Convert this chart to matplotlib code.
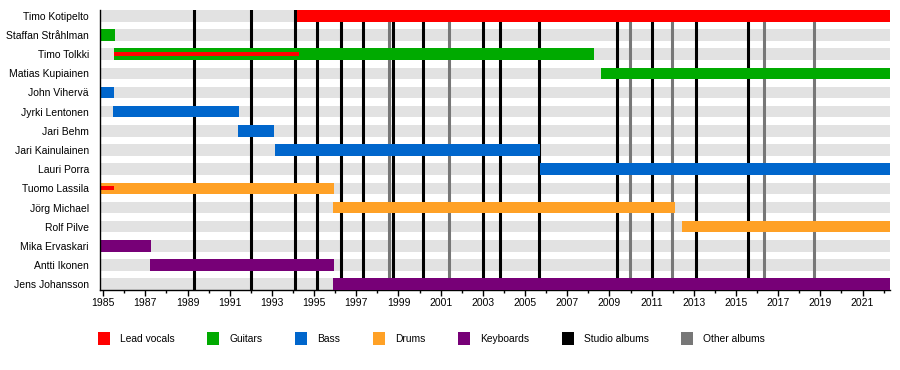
import matplotlib.pyplot as plt
from matplotlib.patches import Patch
from matplotlib.ticker import MultipleLocator

plt.rcParams["font.family"] = ["Liberation Sans", "DejaVu Sans"]

# 时间范围
START = 1984.85
END = 2022.3

members = ["Timo Kotipelto", "Staffan Stråhlman", "Timo Tolkki", "Matias Kupiainen",
           "John Vihervä", "Jyrki Lentonen", "Jari Behm", "Jari Kainulainen",
           "Lauri Porra", "Tuomo Lassila", "Jörg Michael", "Rolf Pilve",
           "Mika Ervaskari", "Antti Ikonen", "Jens Johansson"]
roles = ["vocals", "guitars", "guitars", "guitars",
         "bass", "bass", "bass", "bass",
         "bass", "drums", "drums", "drums",
         "keyboards", "keyboards", "keyboards"]
starts = [1994.21, START, 1985.5, 2008.59,
          START, 1985.46, 1991.38, 1993.14,
          2005.71, START, 1995.89, 2012.43,
          START, 1987.21, 1995.89]
ends = [END, 1985.55, 2008.26, END,
        1985.5, 1991.43, 1993.09, 2005.73,
        END, 1995.93, 2012.09, END,
        1987.26, 1995.93, END]

# 兼任主唱（细红线）
extra_members = ["Timo Tolkki", "Tuomo Lassila"]
extra_starts = [1985.5, START]
extra_ends = [1994.27, 1985.5]

studio_albums = [1989.31, 1992.01, 1994.10, 1995.14, 1996.28, 1997.32, 1998.74,
                 2000.14, 2003.0, 2003.8, 2005.66, 2009.36, 2011.02, 2013.10, 2015.57]
other_albums = [1998.53, 2001.4, 2009.98, 2011.97, 2016.33, 2018.70]

colors = {"vocals": "#ff0000", "guitars": "#00aa00", "bass": "#0066cc",
          "drums": "#ffa126", "keyboards": "#770077"}
legend_labels = ["Lead vocals", "Guitars", "Bass", "Drums", "Keyboards",
                 "Studio albums", "Other albums"]
legend_colors = ["#ff0000", "#00aa00", "#0066cc", "#ffa126", "#770077",
                 "#000000", "#777777"]

fig = plt.figure(figsize=(9, 3.7), dpi=100)
ax = fig.add_axes([100 / 900, 1 - 290 / 370, 790 / 900, 280 / 370])

h = 0.6
ypos = list(range(len(members)))

# 背景灰条
ax.barh(ypos, END - START, left=START, height=h, color="#e2e2e2", zorder=1)

# 专辑竖线
for x in studio_albums:
    ax.axvline(x, color="black", linewidth=2.2, zorder=2)
for x in other_albums:
    ax.axvline(x, color="#777777", linewidth=2.2, zorder=2)

# 成员条
for i, (s, e, r) in enumerate(zip(starts, ends, roles)):
    ax.barh(i, e - s, left=s, height=h, color=colors[r], zorder=3)
for name, s, e in zip(extra_members, extra_starts, extra_ends):
    ax.barh(members.index(name), e - s, left=s, height=0.22,
            color=colors["vocals"], zorder=4)

ax.set_xlim(START, END)
ax.set_ylim(len(members) - 1 + h / 2, -h / 2)
ax.set_yticks(ypos)
ax.set_yticklabels(members, fontsize=7.5)
ax.tick_params(axis="y", length=0, pad=8)

ax.xaxis.set_major_locator(MultipleLocator(2))
ax.xaxis.set_minor_locator(MultipleLocator(1))
ax.set_xticks(range(1985, 2022, 2))
ax.tick_params(axis="x", which="major", length=4, width=1, labelsize=7.5, pad=2)
ax.tick_params(axis="x", which="minor", length=2, width=1)

for side in ["top", "right"]:
    ax.spines[side].set_visible(False)
ax.spines["left"].set_linewidth(1)
ax.spines["bottom"].set_linewidth(1)
ax.spines["left"].set_zorder(5)

# 图例
handles = [Patch(facecolor=c, edgecolor="none") for c in legend_colors]
fig.legend(handles, legend_labels, loc="center left", ncol=7,
           bbox_to_anchor=(98 / 900, 1 - 338.5 / 370), frameon=False,
           fontsize=7.4, handlelength=1.17, handleheight=1.52,
           handletextpad=0.95, columnspacing=3.2,
           borderpad=0, borderaxespad=0)

fig.savefig("out.png", dpi=100)
plt.close(fig)
